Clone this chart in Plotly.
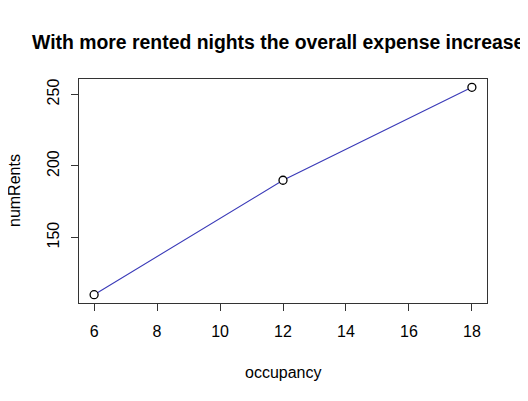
import plotly.graph_objects as go

occupancy = [6, 12, 18]
num_rents = [110, 190, 255]
x_ticks = [6, 8, 10, 12, 14, 16, 18]
y_ticks = [150, 200, 250]
title_text = "With more rented nights the overall expense increases"
x_label = "occupancy"
y_label = "numRents"

FONT = "Liberation Sans, Arial, Helvetica, sans-serif"

fig = go.Figure()
fig.add_trace(go.Scatter(
    x=occupancy, y=num_rents, mode="lines+markers",
    line=dict(color="#3a3ab8", width=1.1),
    marker=dict(symbol="circle", size=8, color="white",
                line=dict(color="black", width=1.3)),
    showlegend=False, hoverinfo="skip",
))

def ext(vals):
    lo, hi = min(vals), max(vals)
    d = (hi - lo) * 0.04
    return [lo - d, hi + d]

# page body has an 8px default margin, so the figure is 8px smaller
fig.update_layout(
    width=520, height=393,
    margin=dict(l=71, r=41, t=71, b=98),
    paper_bgcolor="white", plot_bgcolor="white",
    font=dict(family=FONT, size=16, color="black"),
    xaxis=dict(range=ext(occupancy), tickvals=x_ticks, ticks="outside",
               ticklen=7, tickwidth=1, tickcolor="#333", showgrid=False,
               zeroline=False, showline=True, linecolor="#333", linewidth=1,
               mirror=True, tickfont=dict(size=16), ticklabelstandoff=7),
    yaxis=dict(range=ext(num_rents), tickvals=y_ticks, ticks="outside",
               ticklen=7, tickwidth=1, tickcolor="#333", showgrid=False,
               zeroline=False, showline=True, linecolor="#333", linewidth=1,
               mirror=True, tickangle=-90, tickfont=dict(size=16),
               ticklabelstandoff=6),
    annotations=[
        dict(text="<b>" + title_text + "</b>", xref="paper", yref="paper",
             x=0.5, y=1, yshift=37, xanchor="center", yanchor="middle",
             showarrow=False, font=dict(size=19.4, family=FONT)),
        dict(text=x_label, xref="paper", yref="paper", x=0.5, y=0,
             yshift=-69, xanchor="center", yanchor="middle",
             showarrow=False, font=dict(size=16, family=FONT)),
        dict(text=y_label, xref="paper", yref="paper", x=0, y=0.5,
             xshift=-65, xanchor="center", yanchor="middle", textangle=-90,
             showarrow=False, font=dict(size=16, family=FONT)),
    ],
)

fig.write_html("out.html")
